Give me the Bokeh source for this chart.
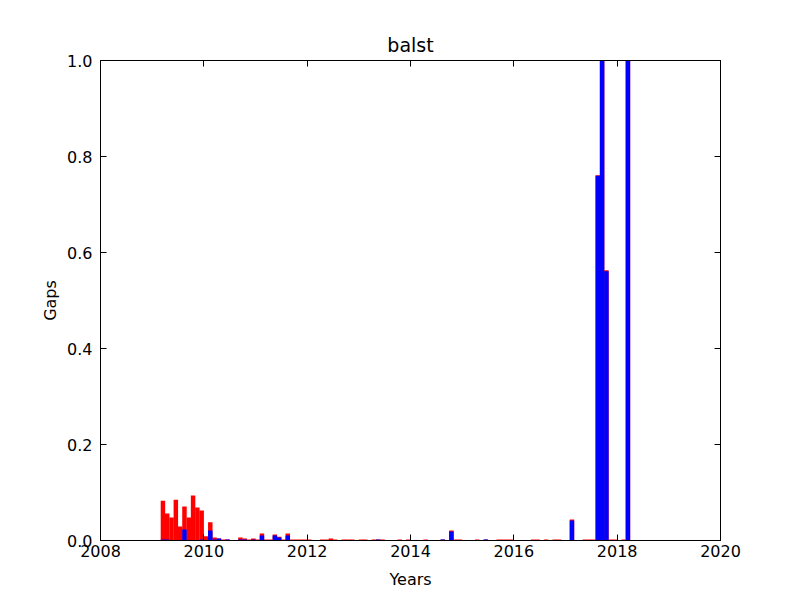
from bokeh.plotting import figure
from bokeh.models import LinearAxis, FixedTicker, Range1d, ColumnDataSource, PrintfTickFormatter
from bokeh.embed import file_html
from bokeh.resources import INLINE

# ---- data ----
months = [
    "2009-03", "2009-04", "2009-05", "2009-06", "2009-07", "2009-08", "2009-09", "2009-10", "2009-11", "2009-12",
    "2010-01", "2010-02", "2010-03", "2010-04", "2010-05", "2010-06", "2010-09", "2010-10", "2010-11", "2010-12",
    "2011-01", "2011-02", "2011-03", "2011-04", "2011-05", "2011-06", "2011-07", "2011-08", "2011-09", "2011-10", "2011-11", "2011-12",
    "2012-01", "2012-04", "2012-05", "2012-06", "2012-07", "2012-09", "2012-10", "2012-11",
    "2013-01", "2013-02", "2013-04", "2013-05", "2013-06", "2013-10", "2013-12",
    "2014-04", "2014-08", "2014-10", "2014-11", "2014-12",
    "2015-04", "2015-06", "2015-09", "2015-10", "2015-11", "2015-12",
    "2016-05", "2016-06", "2016-08", "2016-10", "2016-11",
    "2017-02", "2017-05", "2017-06", "2017-07", "2017-08", "2017-09", "2017-10", "2017-11", "2017-12",
    "2018-02", "2018-03",
]
gaps_total = [
    0.083, 0.056, 0.048, 0.085, 0.029, 0.071, 0.048, 0.094, 0.069, 0.0625,
    0.009, 0.038, 0.006, 0.004, 0.002, 0.002, 0.006, 0.004, 0.002, 0.004,
    0.002, 0.0146, 0.002, 0.002, 0.0125, 0.008, 0.002, 0.0146, 0.002, 0.002, 0.002, 0.002,
    0.002, 0.002, 0.002, 0.004, 0.002, 0.002, 0.002, 0.002,
    0.002, 0.002, 0.002, 0.002, 0.002, 0.002, 0.002,
    0.002, 0.002, 0.021, 0.002, 0.002,
    0.002, 0.002, 0.002, 0.002, 0.002, 0.002,
    0.002, 0.002, 0.002, 0.002, 0.002,
    0.044, 0.002, 0.002, 0.002, 0.761, 1.0, 0.563, 0.002, 0.002,
    0.002, 1.0,
]
gaps_part = [
    0.002, 0.002, 0.0, 0.0, 0.0, 0.023, 0.0, 0.0, 0.0, 0.002,
    0.0, 0.021, 0.002, 0.004, 0.0, 0.002, 0.002, 0.002, 0.0, 0.002,
    0.0, 0.0104, 0.0, 0.0, 0.0104, 0.006, 0.0, 0.0104, 0.0, 0.0, 0.0, 0.0,
    0.0, 0.0, 0.0, 0.0, 0.0, 0.0, 0.0, 0.0,
    0.0, 0.0, 0.0, 0.002, 0.0, 0.0, 0.0,
    0.0, 0.002, 0.019, 0.0, 0.0,
    0.0, 0.002, 0.0, 0.0, 0.0, 0.0,
    0.0, 0.0, 0.0, 0.0, 0.0,
    0.0417, 0.0, 0.0, 0.0, 0.760, 1.0, 0.561, 0.0, 0.0,
    0.0, 1.0,
]
x_ticks = [2008, 2010, 2012, 2014, 2016, 2018, 2020]
y_ticks = [0.0, 0.2, 0.4, 0.6, 0.8, 1.0]

# decimal-year centre of each monthly bar
xc = [int(m[:4]) + (int(m[5:]) - 1) / 12 + 1 / 24 for m in months]
src = ColumnDataSource(dict(x=xc, total=gaps_total, part=gaps_part))

FONT = "DejaVu Sans"
BAR_W = 1 / 12 * 1.04  # slight overlap so adjacent monthly bars show no seams

p = figure(width=800, height=600, output_backend="svg", toolbar_location=None,
           x_range=Range1d(2008, 2020), y_range=Range1d(0, 1),
           min_border_left=100, min_border_right=80, min_border_top=60, min_border_bottom=60,
           title="balst", x_axis_label="Years", y_axis_label="Gaps")

p.vbar(x="x", top="total", bottom=0, width=BAR_W, source=src, fill_color="#ff0000", line_color=None)
p.vbar(x="x", top="part", bottom=0, width=BAR_W, source=src, fill_color="#0000ff", line_color=None)

p.grid.visible = False
p.background_fill_color = "white"
p.border_fill_color = "white"
p.outline_line_color = "black"
p.outline_line_width = 1

p.title.align = "center"
p.title.text_font = FONT
p.title.text_font_size = "19px"
p.title.text_font_style = "normal"
p.title.text_color = "black"

p.xaxis.ticker = FixedTicker(ticks=x_ticks)
p.yaxis.ticker = FixedTicker(ticks=y_ticks)
p.yaxis.formatter = PrintfTickFormatter(format="%.1f")

for ax in (p.xaxis[0], p.yaxis[0]):
    ax.major_tick_in = 6
    ax.major_tick_out = 0
    ax.minor_tick_in = 0
    ax.minor_tick_out = 0
    ax.major_tick_line_color = "black"
    ax.axis_line_color = "black"
    ax.major_label_text_font = FONT
    ax.major_label_text_font_size = "16px"
    ax.major_label_text_color = "black"
    ax.axis_label_text_font = FONT
    ax.axis_label_text_font_size = "16px"
    ax.axis_label_text_font_style = "normal"
    ax.axis_label_text_color = "black"

p.xaxis.major_label_standoff = 4
p.xaxis.axis_label_standoff = 10
p.yaxis.major_label_standoff = 8
p.yaxis.axis_label_standoff = 4

# mirrored ticks on top and right (no labels)
top_ax = LinearAxis(ticker=FixedTicker(ticks=x_ticks))
right_ax = LinearAxis(ticker=FixedTicker(ticks=y_ticks))
for ax in (top_ax, right_ax):
    ax.major_tick_in = 6
    ax.major_tick_out = 0
    ax.minor_tick_in = 0
    ax.minor_tick_out = 0
    ax.major_tick_line_color = "black"
    ax.axis_line_color = "black"
    ax.major_label_text_font_size = "0px"
    ax.major_label_standoff = 0
    ax.major_label_overrides = {t: "" for t in ax.ticker.ticks}
p.add_layout(top_ax, "above")
p.add_layout(right_ax, "right")

open("out.html", "w").write(file_html(p, INLINE))
